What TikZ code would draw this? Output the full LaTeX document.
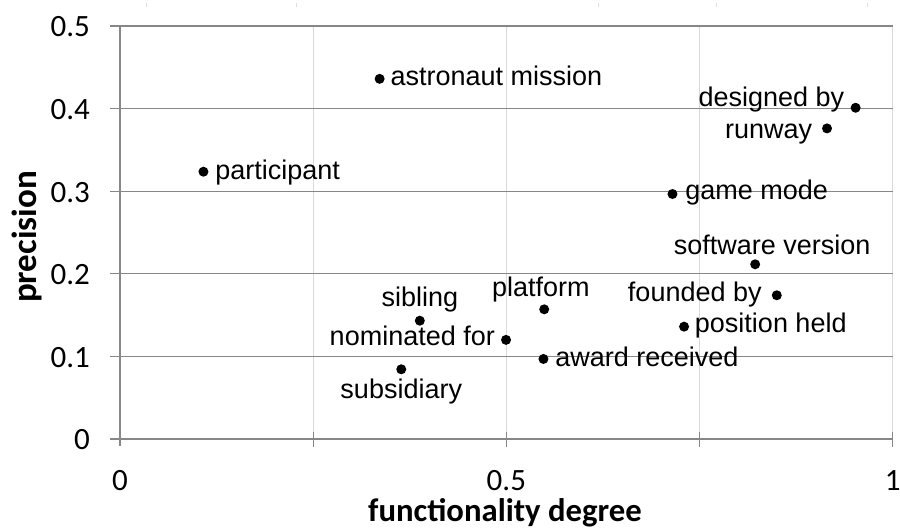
\documentclass[tikz,border=0pt]{standalone}
\usepackage{fontspec}
\setmainfont{Liberation Sans}
\newfontfamily\calfont{Carlito}
\begin{document}
\begin{tikzpicture}[x=1pt,y=1pt,
  dot/.style={circle,fill=black,inner sep=0pt,minimum size=10pt},
  lab/.style={inner sep=0pt,font=\fontsize{27}{30}\selectfont},
  ticklab/.style={inner sep=0pt,font=\calfont\fontsize{31}{34}\selectfont},
  ttl/.style={inner sep=0pt,font=\calfont\bfseries\fontsize{32.7}{36}\selectfont},
  yttl/.style={inner sep=0pt,font=\calfont\bfseries\fontsize{35}{38}\selectfont},
  hgrid/.style={draw=black!47,line width=1.3pt},
  vgrid/.style={draw=black!15,line width=1pt},
  faint/.style={draw=black!12,line width=1pt}]
\useasboundingbox (0,0) rectangle (900,529);
% faint marks at the top
\foreach \fx in {146.7,296.7,598,716,867}
  \draw[faint] (\fx,522) -- (\fx,526);
\begin{scope}[shift={(120pt,90pt)},x=772.7pt,y=826pt]
  % vertical grid lines
  \foreach \gx in {0.25,0.5,0.75,1}
    \draw[vgrid] (\gx,0) -- (\gx,0.5);
  % horizontal grid lines and axis
  \foreach \gy in {0,0.1,0.2,0.3,0.4,0.5}
    \draw[hgrid] ([xshift=-10pt]0,\gy) -- (1,\gy);
  \draw[hgrid] (0,0) -- (0,0.5);
  \draw[hgrid] (0,0) -- ([yshift=-7pt]0,0);
  \foreach \gx in {0.25,0.5,0.75,1}
    \draw[hgrid] ([yshift=7pt]\gx,0) -- ([yshift=-8pt]\gx,0);
  % tick labels
  \foreach \gy/\t in {0/0,0.1/0.1,0.2/0.2,0.3/0.3,0.4/0.4,0.5/0.5}
    \node[ticklab,anchor=east] (y\t) at ([xshift=-30pt,yshift=-1pt]0,\gy) {\t};
  \foreach \gx/\t in {0/0,0.5/0.5,1/1}
    \node[ticklab] (x\t) at ([yshift=-42pt]\gx,0) {\t};
  % data points
  \node[dot] (participant) at (0.108,0.3236) {};
  \node[dot] (astronaut) at (0.336,0.436) {};
  \node[dot] (designed) at (0.952,0.401) {};
  \node[dot] (runway) at (0.915,0.376) {};
  \node[dot] (game) at (0.715,0.2966) {};
  \node[dot] (software) at (0.822,0.2115) {};
  \node[dot] (founded) at (0.850,0.174) {};
  \node[dot] (position) at (0.730,0.136) {};
  \node[dot] (platform) at (0.549,0.157) {};
  \node[dot] (nominated) at (0.4996,0.120) {};
  \node[dot] (award) at (0.548,0.0969) {};
  \node[dot] (sibling) at (0.388,0.1432) {};
  \node[dot] (subsidiary) at (0.364,0.0844) {};
  % labels
  \node[lab,anchor=base west] (participantL) at ([xshift=11.7pt,yshift=-7.6pt]participant.center) {participant};
  \node[lab,anchor=base west] (astronautL) at ([xshift=10.7pt,yshift=-7pt]astronaut.center) {astronaut mission};
  \node[lab,anchor=base west] (gameL) at ([xshift=12.7pt,yshift=-6pt]game.center) {game mode};
  \node[lab,anchor=base west] (positionL) at ([xshift=10.7pt,yshift=-6pt]position.center) {position held};
  \node[lab,anchor=base west] (awardL) at ([xshift=11.7pt,yshift=-7.7pt]award.center) {award received};
  \node[lab,anchor=base east] (designedL) at ([xshift=-11.2pt,yshift=1.7pt]designed.center) {designed by};
  \node[lab,anchor=base east] (runwayL) at ([xshift=-14.7pt,yshift=-10pt]runway.center) {runway};
  \node[lab,anchor=base east] (foundedL) at ([xshift=-15pt,yshift=-6.7pt]founded.center) {founded by};
  \node[lab,anchor=base east] (nominatedL) at ([xshift=-11pt,yshift=-6pt]nominated.center) {nominated for};
  \node[lab,anchor=base] (softwareL) at ([xshift=17pt,yshift=9.3pt]software.center) {software version};
  \node[lab,anchor=base] (platformL) at ([xshift=-3.3pt,yshift=13.3pt]platform.center) {platform};
  \node[lab,anchor=base] (siblingL) at ([yshift=14pt]sibling.center) {sibling};
  \node[lab,anchor=base] (subsidiaryL) at ([yshift=-29pt]subsidiary.center) {subsidiary};
\end{scope}
% axis titles
\node[ttl,anchor=base] (xtitle) at (505,7) {functionality degree};
\node[yttl,anchor=base,rotate=90] (ytitle) at (36,292) {precision};
\end{tikzpicture}
\end{document}
